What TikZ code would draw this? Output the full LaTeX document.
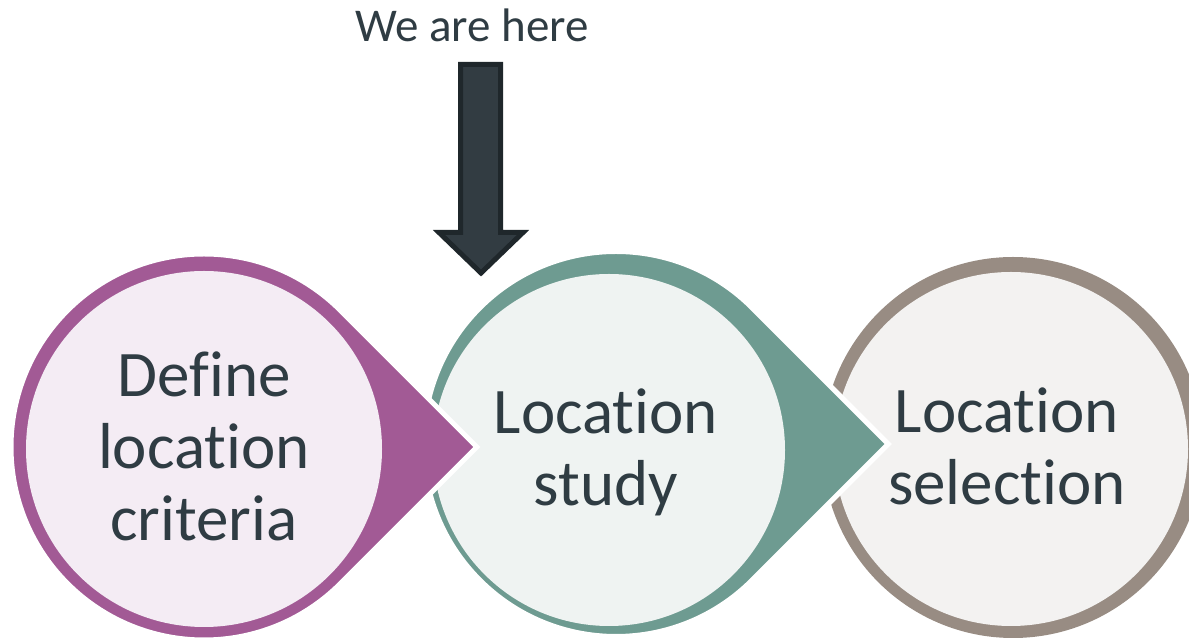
\documentclass[tikz,border=0pt]{standalone}
\usepackage{fontspec}
\setmainfont{Carlito}[RawFeature={-liga;-clig;-calt;-dlig}]
\usepackage{pgf, tikz}
\usetikzlibrary{calc,positioning}

\definecolor{plum}{HTML}{A25A95}
\definecolor{plumlight}{HTML}{F4ECF4}
\definecolor{teal}{HTML}{6E9B91}
\definecolor{teallight}{HTML}{EFF3F2}
\definecolor{stone}{HTML}{988C83}
\definecolor{stonelight}{HTML}{F3F2F1}
\definecolor{ink}{HTML}{2F3C43}
\definecolor{pointerfill}{HTML}{323C42}
\definecolor{pointerline}{HTML}{1F272B}

\begin{document}
\begin{tikzpicture}[x=1pt, y=1pt]
  \tikzstyle{drop} = [draw=white, line width=5pt, line join=miter]
  \tikzstyle{stage text} = [align=center, text=ink, inner sep=0pt, font=\fontsize{65}{72}\selectfont]

  \def\A{204};
  \def\B{616};
  \def\C{1013};

  \useasboundingbox (0,0) rectangle (1189,639);

  % C circle
  \fill[stone] (\C, 191.5) circle (190.5);
  \fill[stonelight] (1011, 190) circle (177);

  % B drop
  \filldraw[drop, fill=teal] (\B, 195) ++(45:192.5)
    arc[start angle=45, end angle=315, radius=192.5] -- ++(45:192.5) -- cycle;
  \fill[teallight] (609, 189) circle (176);

  % A drop
  \filldraw[drop, fill=plum] (\A, 192) ++(45:193)
    arc[start angle=45, end angle=315, radius=193] -- ++(45:193) -- cycle;
  \fill[plumlight] (\A, 190) circle (178);

  % pointer
  \filldraw[fill=pointerfill, draw=pointerline, line width=5pt]
    (460.5, 574.5) -- (500.5, 574.5) -- (500.5, 406.5) -- (523, 406.5)
    -- (481, 366) -- (439, 406.5) -- (460.5, 406.5) -- cycle;

  % labels
  \node[stage text] (define) at (\A, 193) {Define\\location\\criteria};
  \node[stage text] (study) at (606, 187) {Location\\study};
  \node[stage text] (selection) at (1007, 193) {Location\\selection};
  \node[text=ink, inner sep=0pt, anchor=base, font=\fontsize{47}{56}\selectfont] (here) at (472, 597) {We are here};

\end{tikzpicture}
\end{document}
